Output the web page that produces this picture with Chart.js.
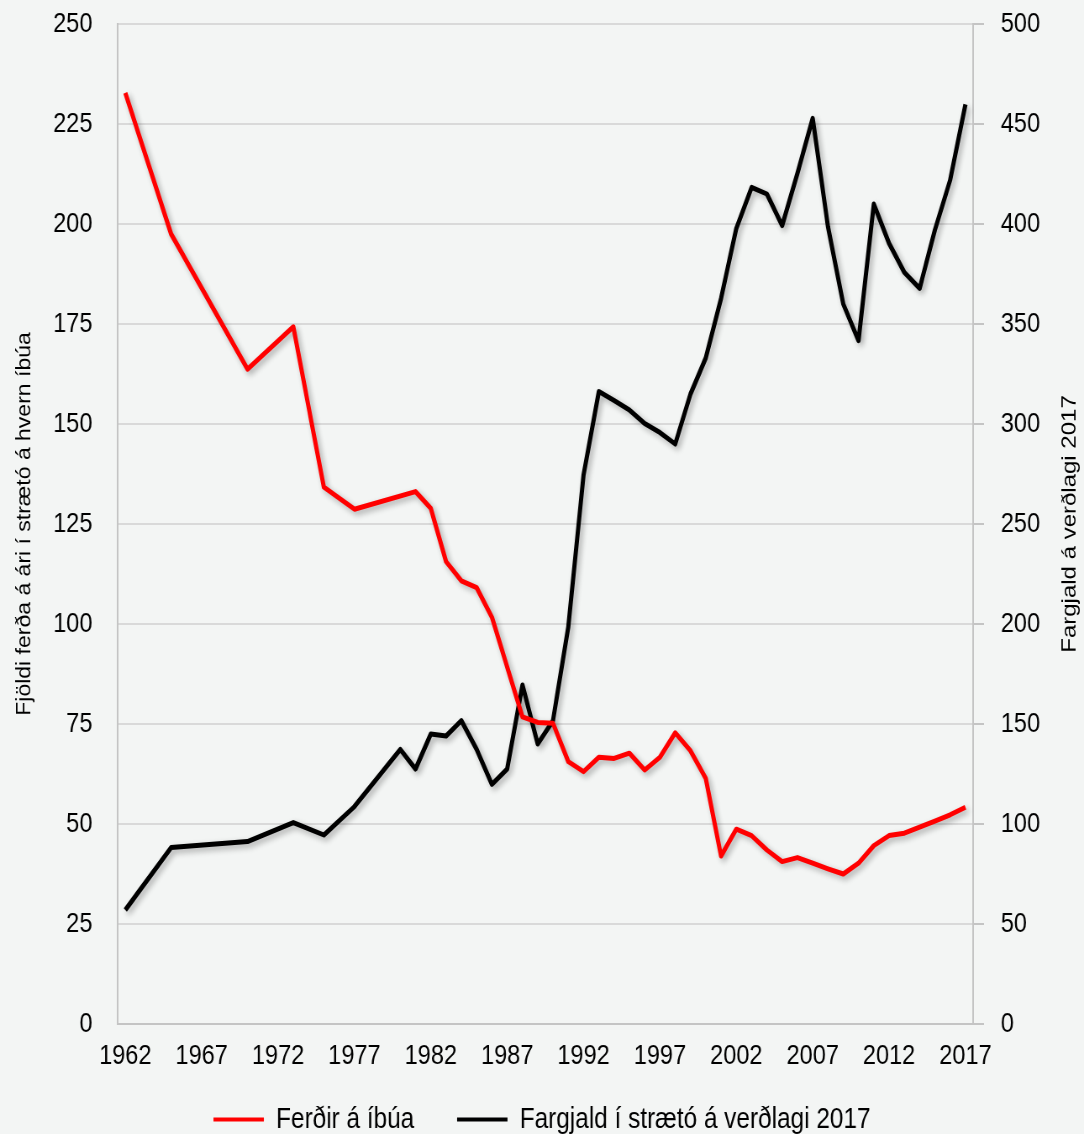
<!DOCTYPE html>
<html>
<head>
<meta charset="utf-8">
<script src="https://cdn.jsdelivr.net/npm/chart.js@4.4.1/dist/chart.umd.min.js"></script>
<style>
  html, body { margin: 0; padding: 0; background: #f3f5f4; overflow: hidden; }
  #wrap { width: 1290px; height: 1134px; transform: scaleX(0.84031); transform-origin: 0 0; }
</style>
</head>
<body>
<div id="wrap"><canvas id="chart"></canvas></div>
<script>
// Ár 1962-2017
const years = [];
for (let y = 1962; y <= 2017; y++) years.push(String(y));

// Ferðir á íbúa (vinstri ás)
const ferdir = [
  232.8, null, null, 197.5, null, null, null, null, 163.7, null,
  null, 174.3, null, 134.2, null, 128.7, null, null, null, 133.1,
  128.9, 115.6, 110.8, 109.1, 101.7, null, 76.8, 75.4, 75.2, 65.6,
  63.1, 66.7, 66.4, 67.7, 63.5, 66.7, 72.8, 68.3, 61.4, 42.0,
  48.7, 47.1, 43.5, 40.6, 41.6, 40.2, 38.8, 37.5, 40.2, 44.6,
  47.1, 47.7, 49.2, 50.7, 52.3, 54.2
];

// Fargjald í strætó á verðlagi 2017 (hægri ás)
const fargjald = [
  57.0, null, null, 88.2, null, null, null, null, 91.2, null,
  null, 100.7, null, 94.5, null, 108.7, null, null, 137.3, 127.5,
  145.0, 144.0, 151.7, 137.3, 119.8, 127.5, 169.5, 140.0, 151.7, 198.5,
  274.5, 316.2, 311.7, 307.0, 300.3, 295.7, 290.0, 315.0, 333.0, 362.8,
  397.8, 418.3, 415.0, 399.2, 425.3, 452.8, 398.7, 360.0, 341.7, 410.0,
  390.3, 375.8, 367.8, 397.0, 422.0, 459.8
];

const leftTicks = { min: 0, max: 250, step: 25 };
const rightTicks = { min: 0, max: 500, step: 50 };

const leftTitle = 'Fjöldi ferða á ári í strætó á hvern íbúa';
const rightTitle = 'Fargjald á verðlagi 2017';

const FONT = "'Liberation Sans', Arial, sans-serif";
const gridColor = '#d9d9d9';
const axisColor = '#c4c4c4';

// mjúkur skuggi undir línunum
const lineShadow = {
  id: 'lineShadow',
  beforeDatasetsDraw(chart) {
    const c = chart.ctx;
    c.save();
    c.shadowColor = 'rgba(0,0,0,0.32)';
    c.shadowBlur = 6;
    c.shadowOffsetX = 3;
    c.shadowOffsetY = 3;
  },
  afterDatasetsDraw(chart) {
    chart.ctx.restore();
  }
};

// titill hægri áss, les neðan frá og upp
const rightAxisTitle = {
  id: 'rightAxisTitle',
  afterDraw(chart) {
    const { ctx, chartArea } = chart;
    ctx.save();
    ctx.translate(chart.width - 17, (chartArea.top + chartArea.bottom) / 2);
    ctx.rotate(-Math.PI / 2);
    ctx.font = '24px ' + FONT;
    ctx.fillStyle = '#000';
    ctx.textAlign = 'center';
    ctx.textBaseline = 'middle';
    ctx.fillText(rightTitle, 0, 0);
    ctx.restore();
  }
};

// x-ásinn tekur lítið pláss en merkin mega ná niður fyrir hann
const xLabelRoom = {
  id: 'xLabelRoom',
  afterLayout(chart) {
    const x = chart.scales.x;
    x.bottom = x.top + 48;
  }
};

// fast breidd á y-ásum, engin aukabil ofan/neðan
const fixWidth = (w) => (scale) => {
  scale.width = w;
  scale.paddingTop = 0;
  scale.paddingBottom = 0;
};

new Chart(document.getElementById('chart'), {
  type: 'line',
  data: {
    labels: years,
    datasets: [
      {
        label: 'Ferðir á íbúa',
        data: ferdir,
        yAxisID: 'y',
        borderColor: '#ff0000',
        backgroundColor: '#ff0000',
        borderWidth: 5,
        borderJoinStyle: 'round',
        pointRadius: 0,
        spanGaps: true,
        tension: 0
      },
      {
        label: 'Fargjald í strætó á verðlagi 2017',
        data: fargjald,
        yAxisID: 'y1',
        borderColor: '#000000',
        backgroundColor: '#000000',
        borderWidth: 5,
        borderJoinStyle: 'round',
        pointRadius: 0,
        spanGaps: true,
        tension: 0
      }
    ]
  },
  options: {
    responsive: true,
    maintainAspectRatio: false,
    animation: false,
    layout: { padding: { top: 24, right: 0, bottom: -10, left: 0 } },
    scales: {
      x: {
        offset: true,
        grid: { display: false },
        border: { display: true, color: axisColor, width: 2 },
        ticks: {
          autoSkip: false,
          maxRotation: 0,
          padding: 7,
          color: '#000',
          font: { family: FONT, size: 28 },
          callback: (v, i) => (i % 5 === 0 ? years[i] : null)
        },
        afterFit: (scale) => { scale.height = 30; }
      },
      y: {
        position: 'left',
        min: leftTicks.min,
        max: leftTicks.max,
        grid: { color: gridColor, lineWidth: 2, drawTicks: false },
        border: { display: true, color: axisColor, width: 2 },
        ticks: {
          stepSize: leftTicks.step,
          padding: 30,
          color: '#000',
          font: { family: FONT, size: 28 }
        },
        title: {
          display: true,
          text: leftTitle,
          color: '#000',
          font: { family: FONT, size: 23 },
          padding: { top: 16, bottom: 0 }
        },
        afterFit: fixWidth(140)
      },
      y1: {
        position: 'right',
        min: rightTicks.min,
        max: rightTicks.max,
        grid: { drawOnChartArea: false, drawTicks: true, tickLength: 13, color: axisColor, lineWidth: 2 },
        border: { display: true, color: axisColor, width: 2 },
        ticks: {
          stepSize: rightTicks.step,
          padding: 20,
          color: '#000',
          font: { family: FONT, size: 28 }
        },
        afterFit: fixWidth(132)
      }
    },
    plugins: {
      legend: {
        position: 'bottom',
        labels: {
          color: '#000',
          font: { family: FONT, size: 29 },
          boxWidth: 60,
          boxHeight: 4,
          padding: 51,
          generateLabels: (chart) =>
            Chart.defaults.plugins.legend.labels.generateLabels(chart).map(l => ({ ...l, lineWidth: 0 }))
        }
      },
      tooltip: { enabled: false }
    }
  },
  plugins: [lineShadow, rightAxisTitle, xLabelRoom]
});
</script>
</body>
</html>
